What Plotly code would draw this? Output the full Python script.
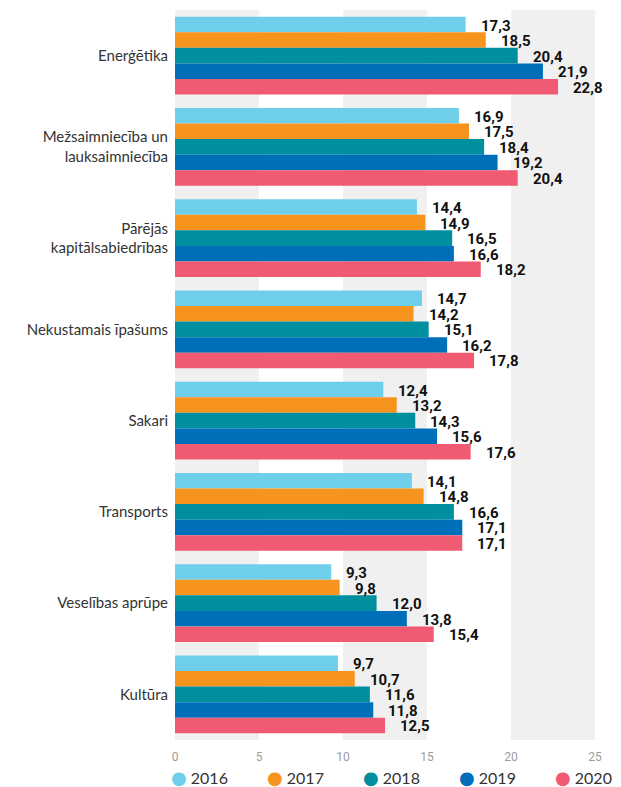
import plotly.graph_objects as go

categories = [
    "Enerģētika",
    "Mežsaimniecība un<br>lauksaimniecība",
    "Pārējās<br>kapitālsabiedrības",
    "Nekustamais īpašums",
    "Sakari",
    "Transports",
    "Veselības aprūpe",
    "Kultūra",
]
years = ["2016", "2017", "2018", "2019", "2020"]
v2016 = [17.3, 16.9, 14.4, 14.7, 12.4, 14.1, 9.3, 9.7]
v2017 = [18.5, 17.5, 14.9, 14.2, 13.2, 14.8, 9.8, 10.7]
v2018 = [20.4, 18.4, 16.5, 15.1, 14.3, 16.6, 12.0, 11.6]
v2019 = [21.9, 19.2, 16.6, 16.2, 15.6, 17.1, 13.8, 11.8]
v2020 = [22.8, 20.4, 18.2, 17.8, 17.6, 17.1, 15.4, 12.5]
x_ticks = [0, 5, 10, 15, 20, 25]

series = [v2016, v2017, v2018, v2019, v2020]
colors = ["#6FCFEB", "#F7941D", "#008F9E", "#006FBA", "#F05A73"]

BARGAP = 0.15
n = len(series)
w = (1 - BARGAP) / n

fig = go.Figure()
for k, (yr, vals, col) in enumerate(zip(years, series, colors)):
    fig.add_trace(go.Bar(
        y=categories, x=vals, orientation="h", name=yr,
        marker=dict(color=col, line=dict(width=0)),
        showlegend=False, hoverinfo="x+y",
    ))

annotations = []
for k, vals in enumerate(series):
    for i, v in enumerate(vals):
        annotations.append(dict(
            x=v, y=i + (k - (n - 1) / 2) * w, xref="x", yref="y",
            text=f"{v:.1f}".replace(".", ","), showarrow=False,
            xanchor="left", yanchor="middle", xshift=13, yshift=-1,
            font=dict(family="Roboto", size=15, color="#111111", weight="bold"),
        ))

# legend row below the axis: coloured circle glyph + year
PLOT_W = 420
LEG_STEP = 96
for k, (yr, col) in enumerate(zip(years, colors)):
    annotations.append(dict(
        x=(-6 + k * LEG_STEP) / PLOT_W, y=-0.052, xref="paper", yref="paper",
        xanchor="left", yanchor="middle", showarrow=False,
        text=f"<span style='color:{col};font-family:DejaVu Sans;font-size:18px'>●</span> {yr}",
        font=dict(family="Lato", size=16, color="#333333"),
    ))

shapes = []
for a in x_ticks[0::2]:
    if a + 5 <= x_ticks[-1]:
        shapes.append(dict(type="rect", xref="x", yref="paper",
                           x0=a, x1=a + 5, y0=0, y1=1,
                           fillcolor="#F0F0F0", line=dict(width=0), layer="below"))

fig.update_layout(
    width=605, height=779,
    margin=dict(l=167, r=18, t=2, b=47, autoexpand=False),
    paper_bgcolor="white", plot_bgcolor="white",
    barmode="group", bargap=BARGAP, bargroupgap=0,
    shapes=shapes, annotations=annotations, showlegend=False,
    xaxis=dict(range=[0, 25], tickvals=x_ticks, showgrid=False, zeroline=False,
               showline=False, ticks="", ticklabelstandoff=8, automargin=False,
               tickfont=dict(family="Roboto", size=12, color="#9A9A9A")),
    yaxis=dict(autorange="reversed", showgrid=False, zeroline=False, showline=False,
               ticks="", ticklabelstandoff=6, automargin=False,
               tickfont=dict(family="Lato", size=15, color="#333333")),
)

fig.write_html("out.html")
